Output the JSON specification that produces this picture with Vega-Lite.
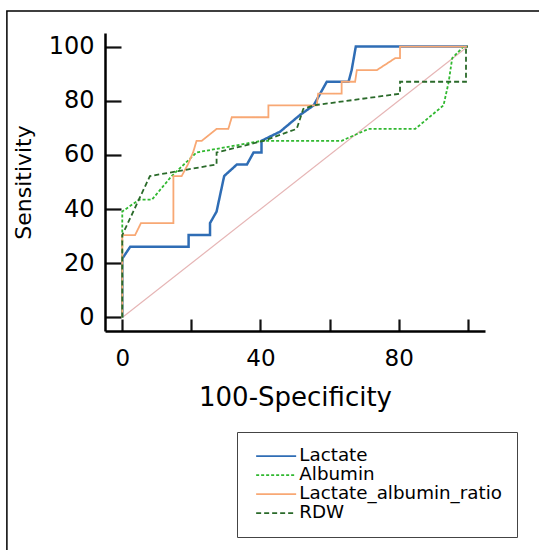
{
  "$schema": "https://vega.github.io/schema/vega-lite/v6.json",
  "width": 380,
  "height": 298,
  "autosize": {"type": "none"},
  "padding": {"left": 105, "top": 33, "right": 54, "bottom": 219},
  "background": "white",
  "config": {"view": {"stroke": null}, "font": "DejaVu Sans"},
  "datasets": {
    "diag": [{"x": 0, "y": 0}, {"x": 100, "y": 100}],
    "roc": [
      {"test": "Lactate", "i": 0, "x": 0, "y": 0},
      {"test": "Lactate", "i": 1, "x": 0, "y": 21.7},
      {"test": "Lactate", "i": 2, "x": 2.3, "y": 26.1},
      {"test": "Lactate", "i": 3, "x": 19.2, "y": 26.1},
      {"test": "Lactate", "i": 4, "x": 19.2, "y": 30.4},
      {"test": "Lactate", "i": 5, "x": 25.4, "y": 30.4},
      {"test": "Lactate", "i": 6, "x": 25.4, "y": 34.8},
      {"test": "Lactate", "i": 7, "x": 27.3, "y": 39.1},
      {"test": "Lactate", "i": 8, "x": 29.5, "y": 52.2},
      {"test": "Lactate", "i": 9, "x": 33.2, "y": 56.5},
      {"test": "Lactate", "i": 10, "x": 36.1, "y": 56.5},
      {"test": "Lactate", "i": 11, "x": 38, "y": 60.9},
      {"test": "Lactate", "i": 12, "x": 40.3, "y": 60.9},
      {"test": "Lactate", "i": 13, "x": 40.3, "y": 65.2},
      {"test": "Lactate", "i": 14, "x": 45.7, "y": 68.6},
      {"test": "Lactate", "i": 15, "x": 51.4, "y": 74.7},
      {"test": "Lactate", "i": 16, "x": 55.4, "y": 78.3},
      {"test": "Lactate", "i": 17, "x": 59.2, "y": 87},
      {"test": "Lactate", "i": 18, "x": 65.5, "y": 87},
      {"test": "Lactate", "i": 19, "x": 66.4, "y": 91.3},
      {"test": "Lactate", "i": 20, "x": 67.6, "y": 100},
      {"test": "Lactate", "i": 21, "x": 100, "y": 100},
      {"test": "Albumin", "i": 0, "x": 0, "y": 0},
      {"test": "Albumin", "i": 1, "x": 0, "y": 39.1},
      {"test": "Albumin", "i": 2, "x": 4.9, "y": 43.5},
      {"test": "Albumin", "i": 3, "x": 8.6, "y": 43.5},
      {"test": "Albumin", "i": 4, "x": 14.3, "y": 52.2},
      {"test": "Albumin", "i": 5, "x": 21.5, "y": 60.9},
      {"test": "Albumin", "i": 6, "x": 40.3, "y": 65.2},
      {"test": "Albumin", "i": 7, "x": 63.5, "y": 65.2},
      {"test": "Albumin", "i": 8, "x": 71.3, "y": 69.6},
      {"test": "Albumin", "i": 9, "x": 84.8, "y": 69.6},
      {"test": "Albumin", "i": 10, "x": 93, "y": 78.3},
      {"test": "Albumin", "i": 11, "x": 94.5, "y": 87},
      {"test": "Albumin", "i": 12, "x": 95.5, "y": 95.7},
      {"test": "Albumin", "i": 13, "x": 98.8, "y": 100},
      {"test": "Albumin", "i": 14, "x": 100, "y": 100},
      {"test": "Lactate_albumin_ratio", "i": 0, "x": 0, "y": 0},
      {"test": "Lactate_albumin_ratio", "i": 1, "x": 0, "y": 30.4},
      {"test": "Lactate_albumin_ratio", "i": 2, "x": 3.7, "y": 30.4},
      {"test": "Lactate_albumin_ratio", "i": 3, "x": 5.4, "y": 34.8},
      {"test": "Lactate_albumin_ratio", "i": 4, "x": 14.8, "y": 34.8},
      {"test": "Lactate_albumin_ratio", "i": 5, "x": 14.8, "y": 52.2},
      {"test": "Lactate_albumin_ratio", "i": 6, "x": 17.2, "y": 52.2},
      {"test": "Lactate_albumin_ratio", "i": 7, "x": 19, "y": 56.5},
      {"test": "Lactate_albumin_ratio", "i": 8, "x": 20.5, "y": 60.9},
      {"test": "Lactate_albumin_ratio", "i": 9, "x": 21.5, "y": 65.2},
      {"test": "Lactate_albumin_ratio", "i": 10, "x": 23, "y": 65.2},
      {"test": "Lactate_albumin_ratio", "i": 11, "x": 27.3, "y": 69.6},
      {"test": "Lactate_albumin_ratio", "i": 12, "x": 30.7, "y": 69.6},
      {"test": "Lactate_albumin_ratio", "i": 13, "x": 31.7, "y": 73.9},
      {"test": "Lactate_albumin_ratio", "i": 14, "x": 42.3, "y": 73.9},
      {"test": "Lactate_albumin_ratio", "i": 15, "x": 42.3, "y": 78.3},
      {"test": "Lactate_albumin_ratio", "i": 16, "x": 56.3, "y": 78.3},
      {"test": "Lactate_albumin_ratio", "i": 17, "x": 56.7, "y": 82.6},
      {"test": "Lactate_albumin_ratio", "i": 18, "x": 63.5, "y": 82.6},
      {"test": "Lactate_albumin_ratio", "i": 19, "x": 63.5, "y": 87},
      {"test": "Lactate_albumin_ratio", "i": 20, "x": 67.4, "y": 87},
      {"test": "Lactate_albumin_ratio", "i": 21, "x": 67.9, "y": 91.3},
      {"test": "Lactate_albumin_ratio", "i": 22, "x": 73.7, "y": 91.3},
      {"test": "Lactate_albumin_ratio", "i": 23, "x": 79, "y": 95.7},
      {"test": "Lactate_albumin_ratio", "i": 24, "x": 80.4, "y": 95.7},
      {"test": "Lactate_albumin_ratio", "i": 25, "x": 80.4, "y": 100},
      {"test": "Lactate_albumin_ratio", "i": 26, "x": 100, "y": 100},
      {"test": "RDW", "i": 0, "x": 0, "y": 0},
      {"test": "RDW", "i": 1, "x": 0, "y": 30.4},
      {"test": "RDW", "i": 2, "x": 8, "y": 52.2},
      {"test": "RDW", "i": 3, "x": 27.3, "y": 56.5},
      {"test": "RDW", "i": 4, "x": 27.3, "y": 60.9},
      {"test": "RDW", "i": 5, "x": 40.9, "y": 65.2},
      {"test": "RDW", "i": 6, "x": 50.5, "y": 69.6},
      {"test": "RDW", "i": 7, "x": 52.4, "y": 77},
      {"test": "RDW", "i": 8, "x": 55.4, "y": 78.3},
      {"test": "RDW", "i": 9, "x": 80.4, "y": 82.6},
      {"test": "RDW", "i": 10, "x": 80.4, "y": 87},
      {"test": "RDW", "i": 11, "x": 99.5, "y": 87},
      {"test": "RDW", "i": 12, "x": 99.5, "y": 100},
      {"test": "RDW", "i": 13, "x": 100, "y": 100}
    ]
  },
  "layer": [
    {
      "data": {"values": [{"k": 1}]},
      "mark": {"type": "rect", "fill": null, "stroke": "black", "strokeWidth": 1.5, "clip": false},
      "encoding": {
        "x": {"datum": -33.4, "type": "quantitative", "scale": {"domain": [-5, 105], "nice": false, "zero": false}},
        "x2": {"datum": 122.5},
        "y": {"datum": 113.1, "type": "quantitative", "scale": {"domain": [-5, 105], "nice": false, "zero": false}},
        "y2": {"datum": -89.5}
      }
    },
    {
      "data": {"name": "diag"},
      "mark": {"type": "line", "color": "#e6b5b5", "strokeWidth": 1.2},
      "encoding": {
        "x": {"field": "x", "type": "quantitative", "scale": {"domain": [-5, 105], "nice": false, "zero": false}},
        "y": {"field": "y", "type": "quantitative", "scale": {"domain": [-5, 105], "nice": false, "zero": false}}
      }
    },
    {
      "data": {"name": "roc"},
      "mark": {"type": "line"},
      "encoding": {
        "x": {
          "field": "x", "type": "quantitative",
          "scale": {"domain": [-5, 105], "nice": false, "zero": false},
          "axis": {
            "title": "100-Specificity",
            "values": [0, 5, 10, 15, 20, 25, 30, 35, 40, 45, 50, 55, 60, 65, 70, 75, 80, 85, 90, 95, 100],
            "labelExpr": "datum.value % 40 === 0 ? datum.label : ''",
            "tickSize": {"condition": {"test": "datum.value % 20 === 0", "value": -12}, "value": -7},
            "tickWidth": {"condition": {"test": "datum.value % 20 === 0", "value": 2.2}, "value": 1.5},
            "tickColor": {"condition": {"test": "datum.value % 20 === 0", "value": "#111"}, "value": "#666"},
            "domainColor": "black", "domainWidth": 2.5,
            "labelFontSize": 23, "labelColor": "black", "labelPadding": 28,
            "labelFlush": false, "labelOverlap": false,
            "titleFontSize": 26, "titleFontWeight": "normal", "titleColor": "black", "titlePadding": 14,
            "grid": false
          }
        },
        "y": {
          "field": "y", "type": "quantitative",
          "scale": {"domain": [-5, 105], "nice": false, "zero": false},
          "axis": {
            "title": "Sensitivity",
            "values": [0, 5, 10, 15, 20, 25, 30, 35, 40, 45, 50, 55, 60, 65, 70, 75, 80, 85, 90, 95, 100],
            "labelExpr": "datum.value % 20 === 0 ? datum.label : ''",
            "tickSize": {"condition": {"test": "datum.value % 20 === 0", "value": -16}, "value": -9},
            "tickWidth": {"condition": {"test": "datum.value % 20 === 0", "value": 2.2}, "value": 1.5},
            "tickColor": {"condition": {"test": "datum.value % 20 === 0", "value": "#111"}, "value": "#666"},
            "domainColor": "black", "domainWidth": 2.5,
            "labelFontSize": 24, "labelColor": "black", "labelPadding": 27,
            "labelFlush": false, "labelOverlap": false,
            "titleFontSize": 22, "titleFontWeight": "normal", "titleColor": "black", "titlePadding": 13,
            "grid": false
          }
        },
        "order": {"field": "i", "type": "quantitative"},
        "color": {
          "field": "test", "type": "nominal",
          "scale": {"domain": ["Lactate", "Albumin", "Lactate_albumin_ratio", "RDW"], "range": ["#2f6db5", "#30b830", "#f8a874", "#2a6a2a"]},
          "legend": {
            "title": null, "orient": "none", "legendX": 132, "legendY": 399,
            "direction": "vertical",
            "strokeColor": "#444", "fillColor": "white", "padding": 15,
            "symbolType": "M-1,0H7", "symbolSize": 100, "symbolStrokeWidth": 1.6,
            "labelFontSize": 18.3, "labelColor": "black", "labelOffset": 29, "labelLimit": 300,
            "rowPadding": 0
          }
        },
        "strokeDash": {
          "field": "test", "type": "nominal",
          "scale": {"domain": ["Lactate", "Albumin", "Lactate_albumin_ratio", "RDW"], "range": [[1, 0], [3, 2], [1, 0], [5, 3]]}
        },
        "strokeWidth": {"condition": {"test": "datum.test === 'Lactate'", "value": 2.5}, "value": 1.8}
      }
    }
  ]
}
